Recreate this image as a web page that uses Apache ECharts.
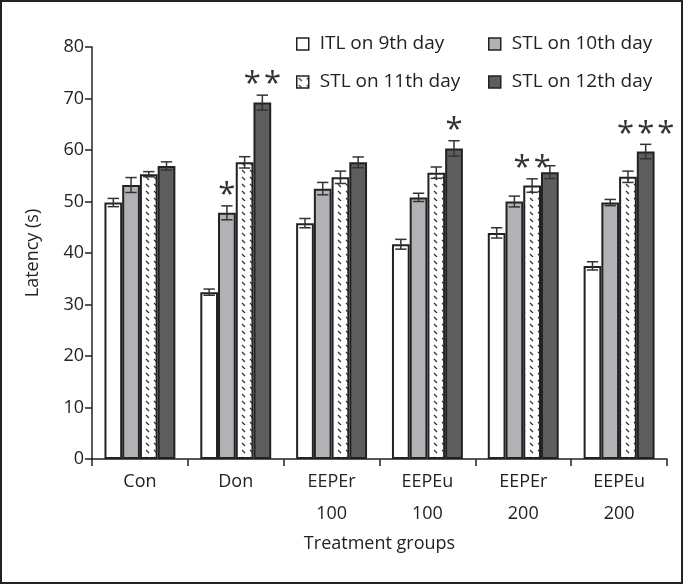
<!DOCTYPE html>
<html>
<head>
<meta charset="UTF-8">
<title></title>
<script type="text/javascript" src="https://cdn.jsdelivr.net/npm/echarts@6/dist/echarts.min.js"></script>
<style>
  html, body { margin: 0; padding: 0; background: #fff; }
</style>
</head>
<body>
<div id="main" style="width: 684px;height: 585px;"></div>
<script type="text/javascript">
// groups on the x axis
var categories = ['Con', 'Don', 'EEPEr\n100', 'EEPEu\n100', 'EEPEr\n200', 'EEPEu\n200'];
var seriesNames = ['ITL on 9th day', 'STL on 10th day', 'STL on 11th day', 'STL on 12th day'];

// mean latency (s)
var itl9  = [49.8, 32.4, 45.8, 41.7, 43.9, 37.5];
var stl10 = [53.2, 47.8, 52.5, 50.8, 50.0, 49.8];
var stl11 = [55.3, 57.6, 54.7, 55.6, 53.1, 54.8];
var stl12 = [56.9, 69.2, 57.6, 60.3, 55.7, 59.7];

// error bars (+/-)
var err9  = [0.8, 0.6, 0.9, 0.95, 1.0, 0.8];
var err10 = [1.45, 1.35, 1.2, 0.8, 1.05, 0.6];
var err11 = [0.5, 1.1, 1.2, 1.1, 1.3, 1.1];
var err12 = [0.8, 1.45, 1.05, 1.5, 1.25, 1.4];

// significance marks
var star9  = ['', '', '', '', '', ''];
var star10 = ['', '*', '', '', '', ''];
var star11 = ['', '', '', '', '**', ''];
var star12 = ['', '**', '', '*', '', '***'];

var yTicks = [0, 10, 20, 30, 40, 50, 60, 70, 80];

var means = [itl9, stl10, stl11, stl12];
var errs = [err9, err10, err11, err12];
var stars = [star9, star10, star11, star12];

var FONT = '"Open Sans", "Noto Sans", sans-serif';
var INK = '#222';
var GAP = 0.26;

function makeHatch() {
  var c = document.createElement('canvas');
  c.width = 8; c.height = 7;
  var g = c.getContext('2d');
  g.fillStyle = '#fff';
  g.fillRect(0, 0, 8, 7);
  g.strokeStyle = '#333';
  g.lineWidth = 1.2;
  g.beginPath();
  g.moveTo(2, 2);
  g.lineTo(5, 5);
  g.stroke();
  return c;
}

var fills = ['#ffffff', '#b2b2b6', { image: makeHatch(), repeat: 'repeat' }, '#5e5e60'];

var myChart = echarts.init(document.getElementById('main'));

var series = [];
means.forEach(function (vals, s) {
  series.push({
    name: seriesNames[s],
    type: 'bar',
    data: vals,
    barGap: '0%',
    barCategoryGap: (GAP * 100) + '%',
    itemStyle: { color: fills[s], borderColor: INK, borderWidth: 2 },
    silent: true
  });
});

means.forEach(function (vals, s) {
  var data = vals.map(function (v, i) { return [i, v, errs[s][i], stars[s][i]]; });
  series.push({
    type: 'custom',
    silent: true,
    z: 10,
    data: data,
    renderItem: function (params, api) {
      var i = api.value(0), v = api.value(1), e = api.value(2);
      var mark = data[params.dataIndex][3];
      var band = api.size([1, 0])[0];
      var bw = band * (1 - GAP) / 4;
      var cx = api.coord([i, v])[0] + (s - 1.5) * bw;
      var top = api.coord([i, v + e])[1];
      var bot = api.coord([i, v - e])[1];
      var cap = bw * 0.32;
      var st = { stroke: '#333', lineWidth: 1.5 };
      var kids = [
        { type: 'line', shape: { x1: cx, y1: top, x2: cx, y2: bot }, style: st },
        { type: 'line', shape: { x1: cx - cap, y1: top, x2: cx + cap, y2: top }, style: st },
        { type: 'line', shape: { x1: cx - cap, y1: bot, x2: cx + cap, y2: bot }, style: st }
      ];
      if (mark) {
        kids.push({
          type: 'text',
          style: {
            text: mark.split('').join('\u200A'),
            x: cx, y: top + 5,
            align: 'center', verticalAlign: 'bottom',
            font: '31px ' + FONT,
            fill: '#333'
          }
        });
      }
      return { type: 'group', children: kids };
    }
  });
});

var legendText = { color: INK, fontSize: 19, fontFamily: FONT, lineHeight: 20, padding: [0, 0, 0, 6] };

myChart.setOption({
  animation: false,
  textStyle: { fontFamily: FONT },
  grid: { left: 92, right: 17, top: 47, bottom: 126 },
  legend: [
    {
      orient: 'vertical', left: 291, top: 29, itemGap: 18,
      itemWidth: 12, itemHeight: 12, icon: 'rect',
      itemStyle: { borderWidth: 1.5, borderColor: INK },
      textStyle: legendText,
      data: [seriesNames[0], seriesNames[2]]
    },
    {
      orient: 'vertical', left: 483, top: 29, itemGap: 18,
      itemWidth: 12, itemHeight: 12, icon: 'rect',
      itemStyle: { borderWidth: 1.5, borderColor: INK },
      textStyle: legendText,
      data: [seriesNames[1], seriesNames[3]]
    }
  ],
  xAxis: {
    type: 'category',
    data: categories,
    name: 'Treatment groups',
    nameLocation: 'middle',
    nameGap: 64,
    nameTextStyle: { color: INK, fontSize: 18, fontFamily: FONT },
    axisLine: { lineStyle: { color: INK, width: 1.5 } },
    axisTick: { show: true, length: 7, lineStyle: { color: INK, width: 1.5 } },
    axisLabel: { color: INK, fontSize: 18, fontFamily: FONT, lineHeight: 32, margin: 7 }
  },
  yAxis: {
    type: 'value',
    min: yTicks[0],
    max: yTicks[yTicks.length - 1],
    interval: yTicks[1] - yTicks[0],
    name: 'Latency (s)',
    nameLocation: 'middle',
    nameGap: 50,
    nameTextStyle: { color: INK, fontSize: 18, fontFamily: FONT },
    axisLine: { show: true, lineStyle: { color: INK, width: 1.5 } },
    axisTick: { show: true, length: 7, lineStyle: { color: INK, width: 1.5 } },
    axisLabel: { color: INK, fontSize: 18, fontFamily: FONT, margin: 8 },
    splitLine: { show: false }
  },
  graphic: [{
    type: 'rect',
    shape: { x: 1, y: 1, width: 681, height: 582 },
    style: { fill: 'none', stroke: INK, lineWidth: 2 },
    silent: true
  }],
  series: series
});
</script>
</body>
</html>
